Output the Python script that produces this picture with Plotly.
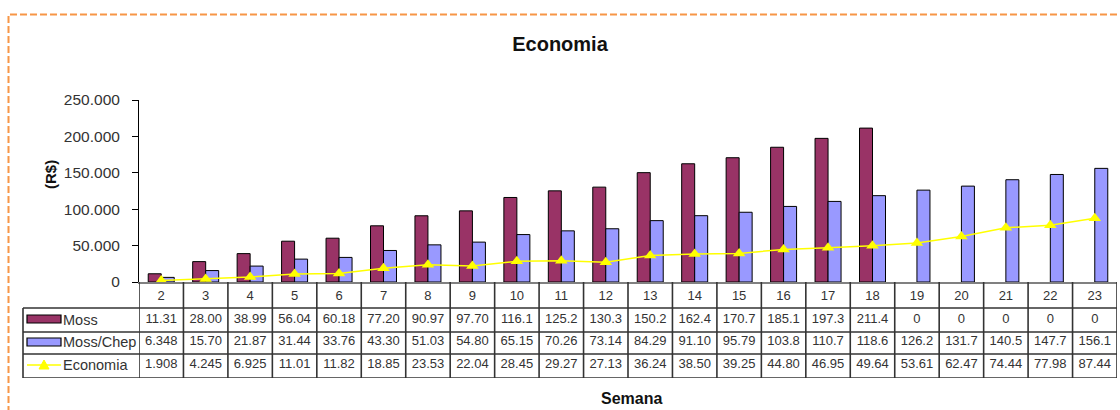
import plotly.graph_objects as go

# ---------------- data (values in thousands of R$, as shown in the table) ----------------
weeks = [2, 3, 4, 5, 6, 7, 8, 9, 10, 11, 12, 13, 14, 15, 16, 17, 18, 19, 20, 21, 22, 23]
moss = [11.31, 28.00, 38.99, 56.04, 60.18, 77.20, 90.97, 97.70, 116.1, 125.2, 130.3,
        150.2, 162.4, 170.7, 185.1, 197.3, 211.4, 0, 0, 0, 0, 0]
moss_chep = [6.348, 15.70, 21.87, 31.44, 33.76, 43.30, 51.03, 54.80, 65.15, 70.26, 73.14,
             84.29, 91.10, 95.79, 103.8, 110.7, 118.6, 126.2, 131.7, 140.5, 147.7, 156.1]
economia = [1.908, 4.245, 6.925, 11.01, 11.82, 18.85, 23.53, 22.04, 28.45, 29.27, 27.13,
            36.24, 38.50, 39.25, 44.80, 46.95, 49.64, 53.61, 62.47, 74.44, 77.98, 87.44]
series_names = ["Moss", "Moss/Chep", "Economia"]
y_ticks = [0, 50000, 100000, 150000, 200000, 250000]

# ---------------- style ----------------
MOSS_C = "#993366"
CHEP_C = "#9999FF"
ECO_C = "#FFFF00"
LINE_C = "#333333"
TXT_C = "#333333"
FONT = "Liberation Sans, Arial, sans-serif"

W, H = 1120, 410
ML, MR, MT, MB = 139, 3, 100, 32
PW = W - ML - MR
PH = H - MT - MB
TABLE_H = 96            # pixel height of the table area (y2 units = pixels)
split = TABLE_H / PH


def px_x(p):   # page pixel x -> paper x
    return (p - ML) / PW


def px_y(p):   # page pixel y -> paper y
    return (H - MB - p) / PH


def y2(p):     # page pixel y -> y2 units
    return (H - MB) - p


def fmt(v):
    return "0" if v == 0 else format(v, "#.4g")


def outline(vals):
    return [1 if v else 0 for v in vals]


fig = go.Figure()

fig.add_bar(x=weeks, y=[v * 1000 for v in moss], name="Moss",
            marker=dict(color=MOSS_C, line=dict(color="black", width=outline(moss))))
fig.add_bar(x=weeks, y=[v * 1000 for v in moss_chep], name="Moss/Chep",
            marker=dict(color=CHEP_C, line=dict(color="black", width=outline(moss_chep))))
fig.add_scatter(x=weeks, y=[v * 1000 for v in economia], name="Economia",
                mode="lines+markers",
                line=dict(color=ECO_C, width=1.5),
                marker=dict(symbol="triangle-up", size=11, color=ECO_C))

# ---------------- data table ----------------
header_y = y2(297)
row_centers = [y2(320), y2(342), y2(365)]
fig.add_scatter(x=weeks, y=[header_y] * len(weeks), yaxis="y2", mode="text",
                text=[str(w) for w in weeks], cliponaxis=False,
                textfont=dict(family=FONT, size=13, color=TXT_C), hoverinfo="skip")
for yc, vals in zip(row_centers, [moss, moss_chep, economia]):
    fig.add_scatter(x=weeks, y=[yc] * len(weeks), yaxis="y2", mode="text",
                    text=[fmt(v) for v in vals], cliponaxis=False,
                    textfont=dict(family=FONT, size=13, color=TXT_C), hoverinfo="skip")

shapes = []
row_lines = [y2(308), y2(332), y2(354), y2(378)]
for yl in row_lines:
    shapes.append(dict(type="line", xref="paper", yref="y2", x0=px_x(23), x1=1,
                       y0=yl, y1=yl, line=dict(color=LINE_C, width=1.6)))
shapes.append(dict(type="line", xref="paper", yref="y2", x0=px_x(23), x1=px_x(23),
                   y0=row_lines[0], y1=row_lines[-1], line=dict(color=LINE_C, width=1.6)))
for b in [w - 0.5 for w in weeks] + [weeks[-1] + 0.5]:
    shapes.append(dict(type="line", xref="x", yref="y2", x0=b, x1=b, y0=0, y1=TABLE_H,
                       line=dict(color=LINE_C, width=1.6)))

# legend keys in the label column
for (top, bot), col in zip([(315, 323), (338, 346)], [MOSS_C, CHEP_C]):
    shapes.append(dict(type="rect", xref="paper", yref="y2", x0=px_x(27), x1=px_x(61),
                       y0=y2(bot), y1=y2(top), fillcolor=col,
                       line=dict(color="black", width=1.2)))
shapes.append(dict(type="line", xref="paper", yref="y2", x0=px_x(27), x1=px_x(61),
                   y0=y2(365), y1=y2(365), line=dict(color=ECO_C, width=1.5)))
tri = "M {a},{b} L {c},{b} L {d},{e} Z".format(a=px_x(39), b=y2(369), c=px_x(49),
                                                d=px_x(44), e=y2(360))
shapes.append(dict(type="path", xref="paper", yref="y2", path=tri, fillcolor=ECO_C,
                   line=dict(color=ECO_C, width=1)))

# dashed orange frame
shapes.append(dict(type="rect", xref="paper", yref="paper", x0=px_x(8.5), x1=px_x(1140),
                   y0=px_y(440), y1=px_y(14.5), fillcolor="rgba(0,0,0,0)",
                   line=dict(color="#F79646", width=2, dash="7px,3px"), layer="above"))

annotations = []
for name, yc in zip(series_names, row_centers):
    annotations.append(dict(text=name, xref="paper", yref="y2", x=px_x(61), y=yc,
                            xanchor="left", yanchor="middle", showarrow=False,
                            font=dict(family=FONT, size=14.5, color=TXT_C)))
annotations.append(dict(text="<b>Semana</b>", xref="paper", yref="paper",
                        x=px_x(631), y=px_y(398), xanchor="center", yanchor="middle",
                        showarrow=False, font=dict(family=FONT, size=16, color="#111")))
annotations.append(dict(text="<b>(R$)</b>", xref="paper", yref="paper", textangle=-90,
                        x=px_x(50), y=px_y(175), xanchor="center", yanchor="middle",
                        showarrow=False, font=dict(family=FONT, size=15, color="#111")))

fig.update_layout(
    width=W, height=H,
    margin=dict(l=ML, r=MR, t=MT, b=MB, autoexpand=False),
    paper_bgcolor="white", plot_bgcolor="white",
    separators=",.",
    showlegend=False,
    barmode="group", bargap=0.415, bargroupgap=0,
    font=dict(family=FONT, color=TXT_C),
    title=dict(text="<b>Economia</b>", x=0.5, xref="container", xanchor="center",
               y=1 - 44 / H, yref="container", yanchor="middle",
               font=dict(family=FONT, size=20, color="#111")),
    xaxis=dict(range=[weeks[0] - 0.5, weeks[-1] + 0.5], anchor="y",
               showgrid=False, zeroline=False, showticklabels=False, ticks="",
               showline=True, linecolor="#808080", linewidth=1.5),
    yaxis=dict(domain=[split, 1], range=[0, 250000], tickvals=y_ticks,
               tickformat=",d", ticks="outside", ticklen=6, tickcolor="black",
               showline=True, linecolor="black", linewidth=1, showgrid=False,
               zeroline=False, ticklabelstandoff=9,
               tickfont=dict(family=FONT, size=15.5, color=TXT_C)),
    yaxis3=dict(overlaying="y", anchor="x", side="left", range=[0, 250000],
                tickvals=y_ticks[1:], ticks="inside", ticklen=6, tickcolor="black",
                showticklabels=False, showline=False, showgrid=False, zeroline=False),
    yaxis2=dict(domain=[0, split], range=[0, TABLE_H], anchor="x", visible=False),
    shapes=shapes,
    annotations=annotations,
)

fig.write_html("out.html")
